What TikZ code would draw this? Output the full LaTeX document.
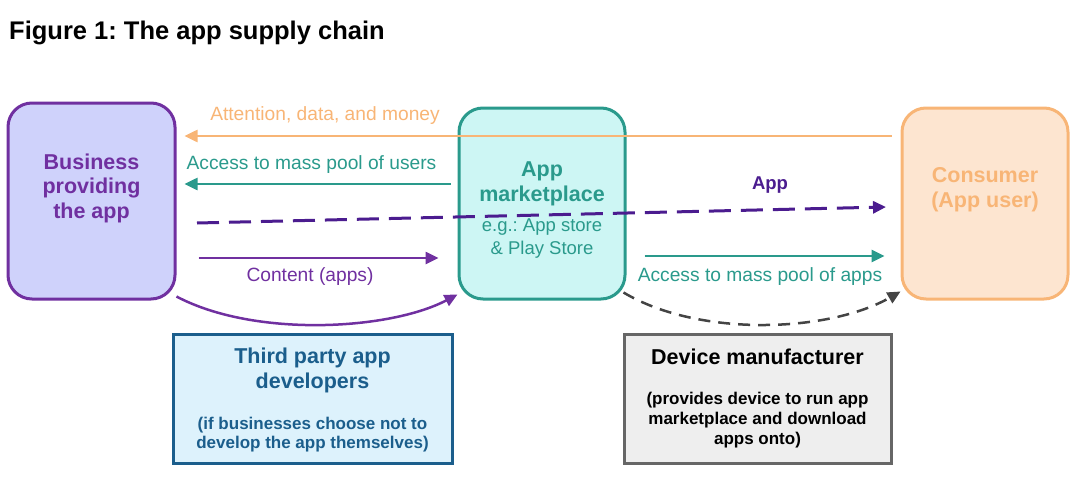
\documentclass[tikz,border=0pt]{standalone}
\usepackage{fontspec}
\setmainfont{Liberation Sans}
\usetikzlibrary{arrows.meta}
\frenchspacing
\definecolor{cpurple}{HTML}{7030A0}
\definecolor{cdpurple}{HTML}{4B1C8F}
\definecolor{cbizfill}{HTML}{CFD2FB}
\definecolor{cteal}{HTML}{2A9A8C}
\definecolor{ctealfill}{HTML}{CDF6F4}
\definecolor{corange}{HTML}{F8B576}
\definecolor{corangefill}{HTML}{FDE5D0}
\definecolor{cblue}{HTML}{1B5E8C}
\definecolor{cbluefill}{HTML}{DDF2FC}
\definecolor{cgray}{HTML}{666666}
\definecolor{cgrayfill}{HTML}{EEEEEE}
\definecolor{cdgray}{HTML}{444444}
\tikzset{
  rbox/.style={draw, line width=3pt, rounded corners=24pt, inner sep=0pt},
  sbox/.style={draw, line width=3pt, inner sep=0pt},
  big/.style={font=\fontsize{21.5}{24.5}\selectfont\bfseries, align=center, inner sep=0pt},
  lab/.style={font=\fontsize{19.2}{22}\selectfont, inner sep=0pt},
  small/.style={font=\fontsize{17}{19.7}\selectfont\bfseries, align=center, inner sep=0pt},
  arr/.style={line width=2.5pt, -{Triangle[length=13pt,width=12pt]}},
}
\begin{document}
\begin{tikzpicture}[x=1pt,y=-1pt]
\useasboundingbox (0,0) rectangle (1081,495);
% title
\node[anchor=base west, inner sep=0pt, font=\fontsize{25.5}{30}\selectfont\bfseries] (title) at (9,40) {Figure 1: The app supply chain};
% boxes
\node[rbox, draw=cpurple, fill=cbizfill, minimum width=167pt, minimum height=196pt] (biz) at (91.5,201) {};
\node[rbox, draw=cteal, fill=ctealfill, minimum width=166pt, minimum height=191pt] (mkt) at (542,203.5) {};
\node[rbox, draw=corange, fill=corangefill, minimum width=166pt, minimum height=191pt] (cons) at (985,203.5) {};
\node[sbox, draw=cblue, fill=cbluefill, minimum width=279pt, minimum height=129pt] (tpd) at (312.5,398.5) {};
\node[sbox, draw=cgray, fill=cgrayfill, minimum width=267pt, minimum height=129pt] (dev) at (757.5,398.5) {};
% box texts
\node[big, text=cpurple] (biztxt) at (91.5,188) {Business\\providing\\the app};
\node[big, text=cteal] (mkttxt) at (542,184) {App\\marketplace};
\node[lab, text=cteal, align=center, font=\fontsize{18.5}{23}\selectfont] (mktsub) at (542,239) {e.g.: App store\\\& Play Store};
\node[big, text=corange] (constxt) at (985,189.5) {Consumer\\(App user)};
\node[big, text=cblue] (tpdtxt) at (312.5,370.5) {Third party app\\developers};
\node[small, text=cblue] (tpdsub) at (312.5,434.5) {(if businesses choose not to\\develop the app themselves)};
\node[big, text=black] (devtxt) at (757.5,357) {Device manufacturer};
\node[small, text=black] (devsub) at (757.5,420) {(provides device to run app\\marketplace and download\\apps onto)};
% helper coordinates
\coordinate (yA) at (0,136);
\coordinate (yB) at (0,184);
\coordinate (yC) at (0,258);
\coordinate (yD) at (0,256);
\coordinate (dS) at (197,223);
\coordinate (dE) at (886,207);
% connectors
\draw[arr, draw=corange, fill=corange] (cons.west |- yA) ++(-9,0) -- ([xshift=8pt]biz.east |- yA);
\node[lab, text=corange] (l1) at (325,116) {Attention, data, and money};
\draw[arr, draw=cteal, fill=cteal] ([xshift=-7pt]mkt.west |- yB) -- ([xshift=8pt]biz.east |- yB);
\node[lab, text=cteal] (l2) at (311.5,165) {Access to mass pool of users};
\draw[line width=3pt, draw=cdpurple, dash pattern=on 22pt off 10pt, -{Triangle[length=13pt,width=12pt]}] (dS) -- (dE);
\node[big, text=cdpurple, font=\fontsize{18.5}{20}\selectfont\bfseries] (l3) at (770,185) {App};
\draw[arr, draw=cpurple, fill=cpurple] ([xshift=22pt]biz.east |- yC) -- ([xshift=-19pt]mkt.west |- yC);
\node[lab, text=cpurple] (l4) at (310,277) {Content (apps)};
\draw[arr, draw=cteal, fill=cteal] ([xshift=18pt]mkt.east |- yD) -- ([xshift=-16pt]cons.west |- yD);
\node[lab, text=cteal] (l5) at (760,277) {Access to mass pool of apps};
\draw[line width=2.5pt, draw=cpurple, -{Triangle[length=13pt,width=12pt]}] ([yshift=4pt]biz.south east) .. controls (255,338) and (390,330) .. ([yshift=6pt]mkt.south west);
\draw[line width=2.5pt, draw=cdgray, dash pattern=on 12pt off 8pt, -{Triangle[length=13pt,width=12pt]}] ([xshift=-3pt,yshift=8pt]mkt.south east) .. controls (700,338) and (830,332) .. ([yshift=9pt]cons.south west);
\end{tikzpicture}
\end{document}
